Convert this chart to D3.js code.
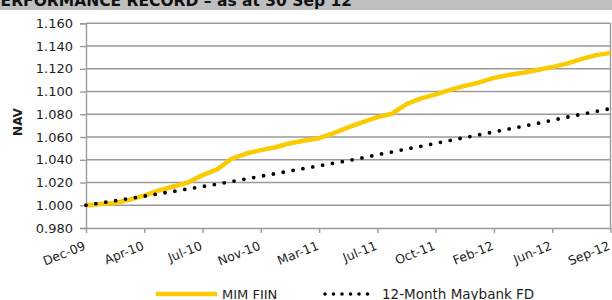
<!DOCTYPE html>
<html>
<head>
<meta charset="utf-8">
<script src="https://cdn.jsdelivr.net/npm/d3@7"></script>
<style>
  html, body { margin: 0; padding: 0; background: #fff; }
  svg { display: block; font-family: "DejaVu Sans", Verdana, sans-serif; }
</style>
</head>
<body>
<svg id="chart" width="612" height="300"></svg>
<script>
// ---- data ----
const title = "PERFORMANCE RECORD \u2013 as at 30 Sep 12";
const yAxisTitle = "NAV";
const tickLabels = ["Dec-09", "Apr-10", "Jul-10", "Nov-10", "Mar-11", "Jul-11", "Oct-11", "Feb-12", "Jun-12", "Sep-12"];
const yTicks = [0.98, 1.00, 1.02, 1.04, 1.06, 1.08, 1.10, 1.12, 1.14, 1.16];
const seriesNames = ["MIM FIIN", "12-Month Maybank FD"];
const mimFiin = [
  1.000, 1.001, 1.002, 1.005, 1.0085, 1.013, 1.0165, 1.020, 1.0265, 1.0315,
  1.041, 1.0455, 1.0485, 1.051, 1.0545, 1.057, 1.059, 1.0635, 1.0685, 1.073,
  1.0775, 1.0805, 1.089, 1.094, 1.0975, 1.1015, 1.105, 1.108, 1.112, 1.1145,
  1.1165, 1.119, 1.1215, 1.1245, 1.1285, 1.132, 1.134
];
const maybankFD = [
  1.000, 1.002, 1.004, 1.006, 1.008, 1.0101, 1.0122, 1.0144, 1.0165, 1.0186,
  1.0209, 1.0232, 1.0255, 1.0278, 1.0301, 1.0324, 1.0347, 1.0370, 1.0393, 1.0418,
  1.0444, 1.0469, 1.0494, 1.0519, 1.0545, 1.0570, 1.0595, 1.0620, 1.0645, 1.0670,
  1.0695, 1.0720, 1.0748, 1.0774, 1.0800, 1.0825, 1.0850
];
const pointsPerLabel = 4;

// ---- layout ----
const svg = d3.select("#chart");
const plotL = 86, plotR = 610.5, plotT = 23.3, plotB = 228;
const textColor = "#1e1e1e", gridColor = "#9a9a9a", yellow = "#FACB00";

const x = d3.scaleLinear().domain([0, mimFiin.length - 1]).range([plotL, plotR]);
const y = d3.scaleLinear().domain([0.98, 1.16]).range([plotB, plotT]);

// header band
svg.append("rect").attr("x", 0).attr("y", 0).attr("width", 612).attr("height", 10).attr("fill", "#c0bfc0");
svg.append("text").attr("x", 352).attr("y", 6).attr("text-anchor", "end")
  .attr("font-size", 15.5).attr("font-weight", "bold").attr("fill", "#111").text(title);

// gridlines
svg.append("g").selectAll("line").data(yTicks.slice(1)).join("line")
  .attr("x1", plotL).attr("x2", plotR)
  .attr("y1", d => y(d)).attr("y2", d => y(d))
  .attr("stroke", gridColor).attr("stroke-width", 1.4);
// right border
svg.append("line").attr("x1", plotR).attr("x2", plotR).attr("y1", y(1.16)).attr("y2", y(0.98))
  .attr("stroke", gridColor).attr("stroke-width", 1.4);

// y axis
const yAxis = d3.axisLeft(y).tickValues(yTicks).tickFormat(d3.format(".3f")).tickSize(6).tickPadding(7);
const gy = svg.append("g").attr("transform", `translate(${plotL},0)`).call(yAxis);
gy.select(".domain").attr("stroke", gridColor).attr("stroke-width", 1.4);
gy.selectAll(".tick line").attr("stroke", gridColor).attr("stroke-width", 1.4);
gy.selectAll("text").attr("font-size", 13).attr("fill", textColor).attr("font-family", "DejaVu Sans");

// x axis
const xTickVals = tickLabels.map((_, i) => i * pointsPerLabel);
const xAxis = d3.axisBottom(x).tickValues(xTickVals).tickFormat((d, i) => tickLabels[i]).tickSize(5).tickSizeOuter(0);
const gx = svg.append("g").attr("transform", `translate(0,${plotB})`).call(xAxis);
gx.select(".domain").attr("stroke", gridColor).attr("stroke-width", 1.4);
gx.selectAll(".tick line").attr("stroke", gridColor).attr("stroke-width", 1.4);
gx.selectAll("text").attr("font-size", 12.5).attr("fill", textColor).attr("font-family", "DejaVu Sans")
  .attr("text-anchor", "end").attr("dy", 0).attr("y", 0)
  .attr("transform", "translate(0,21) rotate(-22)");

// y axis title
svg.append("text").attr("transform", `translate(22,122) rotate(-90)`).attr("text-anchor", "middle")
  .attr("font-size", 12).attr("font-weight", "bold").attr("fill", textColor).text(yAxisTitle);

// lines
const line = d3.line().x((d, i) => x(i)).y(d => y(d));
svg.append("path").datum(mimFiin).attr("d", line).attr("fill", "none")
  .attr("stroke", yellow).attr("stroke-width", 4.5).attr("stroke-linejoin", "round");
svg.append("path").datum(maybankFD).attr("d", line).attr("fill", "none")
  .attr("stroke", "#000").attr("stroke-width", 3.8).attr("stroke-linecap", "round")
  .attr("stroke-dasharray", "0 10");

// legend
const lg = svg.append("g");
lg.append("line").attr("x1", 156).attr("x2", 217).attr("y1", 294).attr("y2", 294)
  .attr("stroke", yellow).attr("stroke-width", 4.5);
lg.append("text").attr("x", 222).attr("y", 298.5).attr("font-size", 13).attr("fill", textColor).text(seriesNames[0]);
lg.append("line").attr("x1", 325).attr("x2", 376).attr("y1", 294).attr("y2", 294)
  .attr("stroke", "#000").attr("stroke-width", 3.6).attr("stroke-linecap", "round").attr("stroke-dasharray", "0 8.5");
lg.append("text").attr("x", 382).attr("y", 298.5).attr("font-size", 13.5).attr("fill", textColor).text(seriesNames[1]);
</script>
</body>
</html>
